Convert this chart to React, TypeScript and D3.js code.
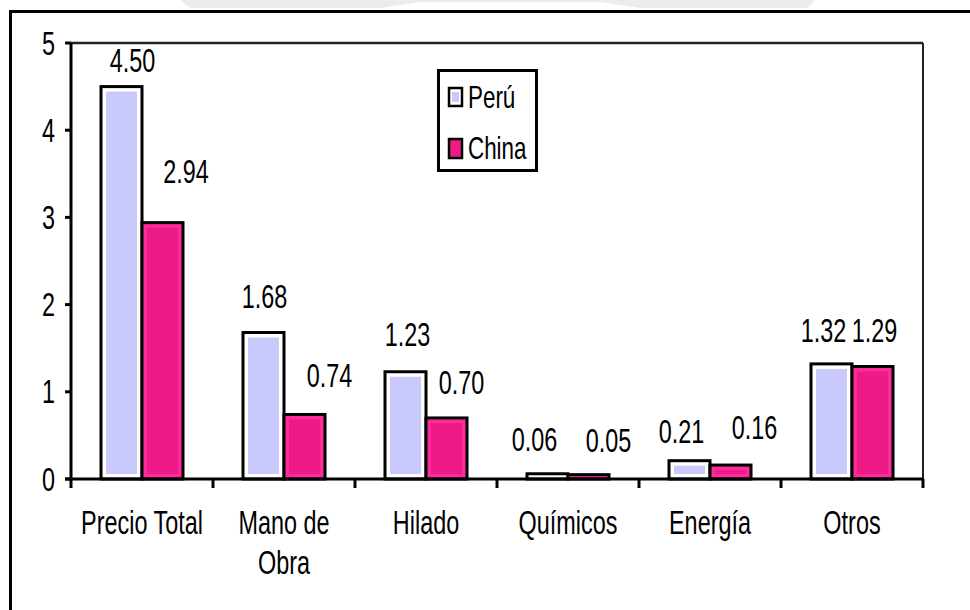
import React from "react";
import * as d3 from "d3";

// ---- data ----
const categories = ["Precio Total", "Mano de\nObra", "Hilado", "Químicos", "Energía", "Otros"];
const seriesNames = ["Perú", "China"];
const peru = [4.5, 1.68, 1.23, 0.06, 0.21, 1.32];
const china = [2.94, 0.74, 0.7, 0.05, 0.16, 1.29];
const yTicks = [0, 1, 2, 3, 4, 5];

// ---- layout (label nudges, as placed in the original) ----
const peruLabelDx = [11, 1, 2, -13, -8, -8];
const peruLabelGap = [15, 25, 26, 23, 18, 22];
const chinaLabelDx = [23.5, 25, 15, 20, 24, 2];
const chinaLabelGap = [40, 27, 24, 23, 26, 25];

const W = 970;
const H = 610;
const left = 71;
const right = 923;
const top = 43;
const bottom = 479;
const FONT = "'Liberation Sans', Arial, sans-serif";
const FS = 33;
const SX = 0.71;

const peruEdge = "#ffffff";
const peruFill = "#c9c9fb";
const chinaEdge = "#ff2a9c";
const chinaFill = "#ec1b86";

function T({ x, y, children, anchor = "middle", size = FS, sx = SX }: any) {
  return (
    <g transform={`translate(${x},${y}) scale(${sx},1)`}>
      <text x={0} y={0} textAnchor={anchor} fontFamily={FONT} fontSize={size} fill="#000">
        {children}
      </text>
    </g>
  );
}

export default function App() {
  const x0 = d3
    .scaleBand<string>()
    .domain(categories)
    .range([left, right])
    .paddingInner(0.4225)
    .paddingOuter(0.4225 / 2);
  const x1 = d3.scaleBand<string>().domain(seriesNames).range([0, x0.bandwidth()]).padding(0);
  const y = d3.scaleLinear().domain([0, 5]).range([bottom, top]);
  const fmt = d3.format(".2f");
  const step = x0.step();

  const bar = (cx: number, v: number, edge: string, fill: string, key: string) => {
    const bw = x1.bandwidth();
    const yt = y(v);
    const h = y(0) - yt;
    const inset = 5;
    return (
      <g key={key}>
        <rect x={cx} y={yt} width={bw} height={h} fill={edge} stroke="#000" strokeWidth={3} />
        {h - inset * 2 > 0 && (
          <rect x={cx + inset} y={yt + inset} width={bw - inset * 2} height={h - inset * 2} fill={fill} />
        )}
      </g>
    );
  };

  return (
    <svg
      width={W}
      height={H}
      style={{ position: "absolute", left: 0, top: 0, background: "#fff" }}
    >
      {/* faint banner at top */}
      <path d="M180,0 L815,0 L808,8 L640,8 L600,2 L420,2 L380,8 L190,8 Z" fill="#ececec" />
      {/* outer frame */}
      <line x1={10.5} y1={11.5} x2={W} y2={11.5} stroke="#000" strokeWidth={3} />
      <line x1={10.5} y1={10} x2={10.5} y2={H} stroke="#000" strokeWidth={3} />

      {/* plot frame */}
      <line x1={left} y1={top} x2={right} y2={top} stroke="#222" strokeWidth={2.5} />
      <line x1={right} y1={top} x2={right} y2={bottom} stroke="#222" strokeWidth={2} />

      {/* bars */}
      {categories.map((c, i) => {
        const gx = x0(c)!;
        return (
          <g key={c}>
            {bar(gx + x1("Perú")!, peru[i], peruEdge, peruFill, "p")}
            {bar(gx + x1("China")!, china[i], chinaEdge, chinaFill, "c")}
          </g>
        );
      })}

      {/* value labels */}
      {categories.map((c, i) => {
        const gx = x0(c)!;
        const bw = x1.bandwidth();
        const pcx = gx + x1("Perú")! + bw / 2;
        const ccx = gx + x1("China")! + bw / 2;
        return (
          <g key={"l" + c}>
            <T x={pcx + peruLabelDx[i]} y={y(peru[i]) - peruLabelGap[i]}>
              {fmt(peru[i])}
            </T>
            <T x={ccx + chinaLabelDx[i]} y={y(china[i]) - chinaLabelGap[i]}>
              {fmt(china[i])}
            </T>
          </g>
        );
      })}

      {/* y axis */}
      <line x1={left} y1={top} x2={left} y2={bottom} stroke="#000" strokeWidth={3} />
      {yTicks.map((t) => (
        <g key={"yt" + t}>
          <line x1={65} y1={y(t)} x2={left} y2={y(t)} stroke="#000" strokeWidth={3} />
          <T x={55} y={y(t) + 11.5} anchor="end">
            {String(t)}
          </T>
        </g>
      ))}

      {/* x axis */}
      <line x1={65} y1={bottom} x2={right} y2={bottom} stroke="#000" strokeWidth={3} />
      {d3.range(categories.length + 1).map((k) => {
        const xx = left + k * step;
        return <line key={"xt" + k} x1={xx} y1={bottom} x2={xx} y2={488} stroke="#000" strokeWidth={3} />;
      })}
      {categories.map((c) => {
        const cx = x0(c)! + x0.bandwidth() / 2;
        return c.split("\n").map((ln, j) => (
          <T key={c + j} x={cx} y={534 + j * 40}>
            {ln}
          </T>
        ));
      })}

      {/* legend */}
      <rect x={438.5} y={70.5} width={98} height={100} fill="#fff" stroke="#000" strokeWidth={3} />
      <rect x={449} y={88} width={13} height={18} fill="#fff" stroke="#000" strokeWidth={2.5} />
      <rect x={452} y={92} width={7} height={10} fill={peruFill} />
      <rect x={449} y={139} width={13} height={19} fill={chinaFill} stroke="#000" strokeWidth={2.5} />
      <T x={468} y={108} anchor="start" size={32} sx={0.7}>
        {seriesNames[0]}
      </T>
      <T x={468} y={159} anchor="start" size={32} sx={0.7}>
        {seriesNames[1]}
      </T>
    </svg>
  );
}
